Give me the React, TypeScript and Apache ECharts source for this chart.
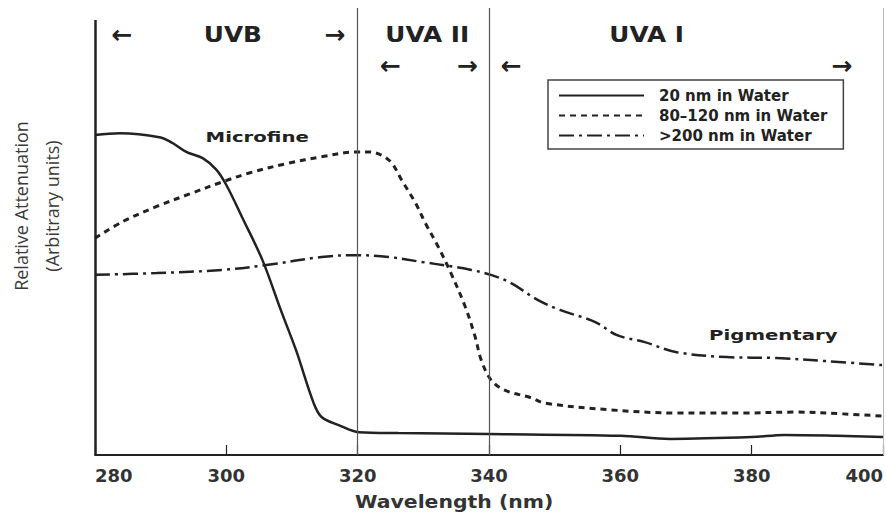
import React, { useEffect, useRef } from "react";
import * as echarts from "echarts";

// Attenuation spectra of TiO2 particle sizes dispersed in water: [wavelength nm, relative attenuation]
const fine20nm: [number, number][] = [
  [280, 71.6], [283.8, 72.0], [289.8, 71.1], [291.8, 69.8], [293.9, 67.8], [296.4, 66.4],
  [298.5, 63.8], [300, 60.4], [302.4, 53.2], [305.5, 43.6], [308.3, 32.4], [310.6, 23.5],
  [313.3, 11.6], [314.5, 8.5], [317.1, 6.7], [320.2, 5.1], [326.2, 4.9], [340, 4.7],
  [360, 4.3], [367.6, 3.6], [380, 4.0], [385, 4.5], [393, 4.3], [400, 4.0],
];

const mid80to120nm: [number, number][] = [
  [280, 48.5], [284.2, 52.2], [289.4, 55.6], [294.4, 58.4], [299.4, 61.1], [303.5, 63.1],
  [309.5, 65.3], [314.5, 66.7], [319.7, 67.8], [321.7, 67.8], [323.6, 67.1], [325.2, 65.3],
  [326.7, 61.5], [328.8, 56.4], [330.3, 51.9], [332.3, 46.5], [334.2, 40.7], [336.4, 33.1],
  [337.9, 26.4], [338.8, 21.3], [340.3, 16.8], [342.4, 14.5], [346.4, 12.8], [348.5, 11.6],
  [358.5, 10.1], [368.6, 9.4], [378.8, 9.4], [386.4, 9.6], [393.9, 9.2], [400, 8.7],
];

const coarse200nm: [number, number][] = [
  [280, 40.3], [289.4, 40.7], [299.4, 41.4], [306.1, 42.5], [314.5, 44.3], [319.7, 44.7],
  [324.7, 44.3], [329.7, 43.2], [333.8, 42.3], [337.3, 41.4], [340.3, 40.3], [343.3, 38.5],
  [347.4, 34.7], [350.9, 32.4], [356.1, 29.8], [359.5, 26.8], [363.6, 25.3], [368.6, 23.0],
  [376.2, 21.9], [383.8, 21.7], [391.4, 21.0], [400, 20.1],
];

const seriesNames = ["20 nm in Water", "80\u2013120 nm in Water", ">200 nm in Water"];

// Band boundaries (nm)
const bandEdges = [320, 340];
const outerEdge = 400;

// Band titles and range arrows, placed in data space [nm, level]
const bandTitles = [
  { text: "UVB", nm: 301, level: 94 },
  { text: "UVA II", nm: 330.6, level: 94 },
  { text: "UVA I", nm: 364, level: 94 },
];
const bandArrows = [
  { text: "\u2190", nm: 284.1, level: 94 },
  { text: "\u2192", nm: 316.5, level: 94 },
  { text: "\u2190", nm: 325.0, level: 87.2 },
  { text: "\u2192", nm: 336.7, level: 87.2 },
  { text: "\u2190", nm: 343.4, level: 87.2 },
  { text: "\u2192", nm: 393.7, level: 87.2 },
];
const curveNotes = [
  { text: "Microfine", nm: 304.7, level: 71.1 },
  { text: "Pigmentary", nm: 383.3, level: 26.8 },
];

const INK = "#222";
const BOLD_FONT = "DejaVu Sans";

export default function App() {
  const ref = useRef<HTMLDivElement>(null);

  useEffect(() => {
    if (!ref.current) return;
    const chart = echarts.init(ref.current, undefined, { renderer: "svg" });

    const noSym = { symbol: "none", showSymbol: false, smooth: 0.35 };

    chart.setOption({
      animation: false,
      backgroundColor: "#ffffff",
      grid: { left: 95, right: 1, top: 8, bottom: 61 },
      xAxis: {
        type: "value",
        min: 280,
        max: 400,
        interval: 20,
        axisLine: { lineStyle: { color: INK, width: 2 } },
        axisTick: { inside: true, length: 10, lineStyle: { color: INK, width: 1.2 } },
        axisLabel: {
          color: "#333",
          fontFamily: BOLD_FONT,
          fontWeight: "bold",
          fontSize: 18,
          margin: 11,
          alignMinLabel: "left",
          alignMaxLabel: "right",
        },
        splitLine: { show: false },
      },
      yAxis: {
        type: "value",
        min: 0,
        max: 100,
        show: false,
      },
      legend: {
        orient: "vertical",
        left: 548,
        top: 80,
        itemWidth: 85,
        itemHeight: 14,
        itemGap: 5,
        padding: [8, 16, 6, 10],
        borderColor: "#444",
        borderWidth: 1.5,
        selectedMode: false,
        itemStyle: { opacity: 0 },
        textStyle: {
          fontFamily: BOLD_FONT,
          fontWeight: "bold",
          fontSize: 15,
          color: INK,
          padding: [0, 0, 0, 10],
        },
        data: seriesNames,
      },
      series: [
        {
          name: seriesNames[0],
          type: "line",
          ...noSym,
          data: fine20nm,
          lineStyle: { color: INK, width: 2.5, type: "solid" },
          itemStyle: { color: INK },
          markLine: {
            silent: true,
            symbol: ["none", "none"],
            label: { show: false },
            data: [
              ...bandEdges.map((v) => ({ xAxis: v, lineStyle: { color: "#555", width: 1.2, type: "solid" } })),
              { xAxis: outerEdge, lineStyle: { color: "#bbb", width: 1, type: "solid" } },
              [
                { coord: [280, 0], lineStyle: { color: INK, width: 2.5, type: "solid" } },
                { coord: [280, 97.3] },
              ],
            ],
          },
        },
        {
          name: seriesNames[1],
          type: "line",
          ...noSym,
          data: mid80to120nm,
          lineStyle: { color: INK, width: 3, type: [6, 5] },
          itemStyle: { color: INK },
        },
        {
          name: seriesNames[2],
          type: "line",
          ...noSym,
          data: coarse200nm,
          lineStyle: { color: INK, width: 2.5, type: [15, 5, 3, 5] },
          itemStyle: { color: INK },
        },
      ],
    });

    const at = (nm: number, level: number) =>
      chart.convertToPixel({ xAxisIndex: 0, yAxisIndex: 0 }, [nm, level]) as number[];

    const textEl = (
      t: { text: string; nm: number; level: number },
      fontSize: number,
      scaleX: number
    ) => {
      const [x, y] = at(t.nm, t.level);
      return {
        type: "text",
        x,
        y,
        scaleX,
        silent: true,
        style: {
          text: t.text,
          fill: INK,
          font: `bold ${fontSize}px "${BOLD_FONT}"`,
          textAlign: "center",
          textVerticalAlign: "middle",
        },
      };
    };

    chart.setOption({
      graphic: [
        ...bandTitles.map((t) => textEl(t, 21, 1.18)),
        ...bandArrows.map((t) => textEl(t, 25, 1)),
        ...curveNotes.map((t) => textEl(t, 14.5, 1.36)),
        {
          type: "text",
          left: 355,
          top: 494,
          silent: true,
          style: {
            text: "Wavelength (nm)",
            fill: "#333",
            font: `bold 17px "${BOLD_FONT}"`,
          },
          scaleX: 1.2,
        },
        {
          type: "text",
          x: 36,
          y: 206,
          rotation: Math.PI / 2,
          silent: true,
          style: {
            text: "Relative Attenuation\n(Arbitrary units)",
            fill: "#3a3a3a",
            font: `18px "Open Sans"`,
            lineHeight: 31,
            textAlign: "center",
            textVerticalAlign: "middle",
          },
        },
      ],
    });

    return () => chart.dispose();
  }, []);

  return (
    <div
      ref={ref}
      style={{ position: "absolute", left: 0, top: 0, width: 886, height: 516 }}
    />
  );
}
